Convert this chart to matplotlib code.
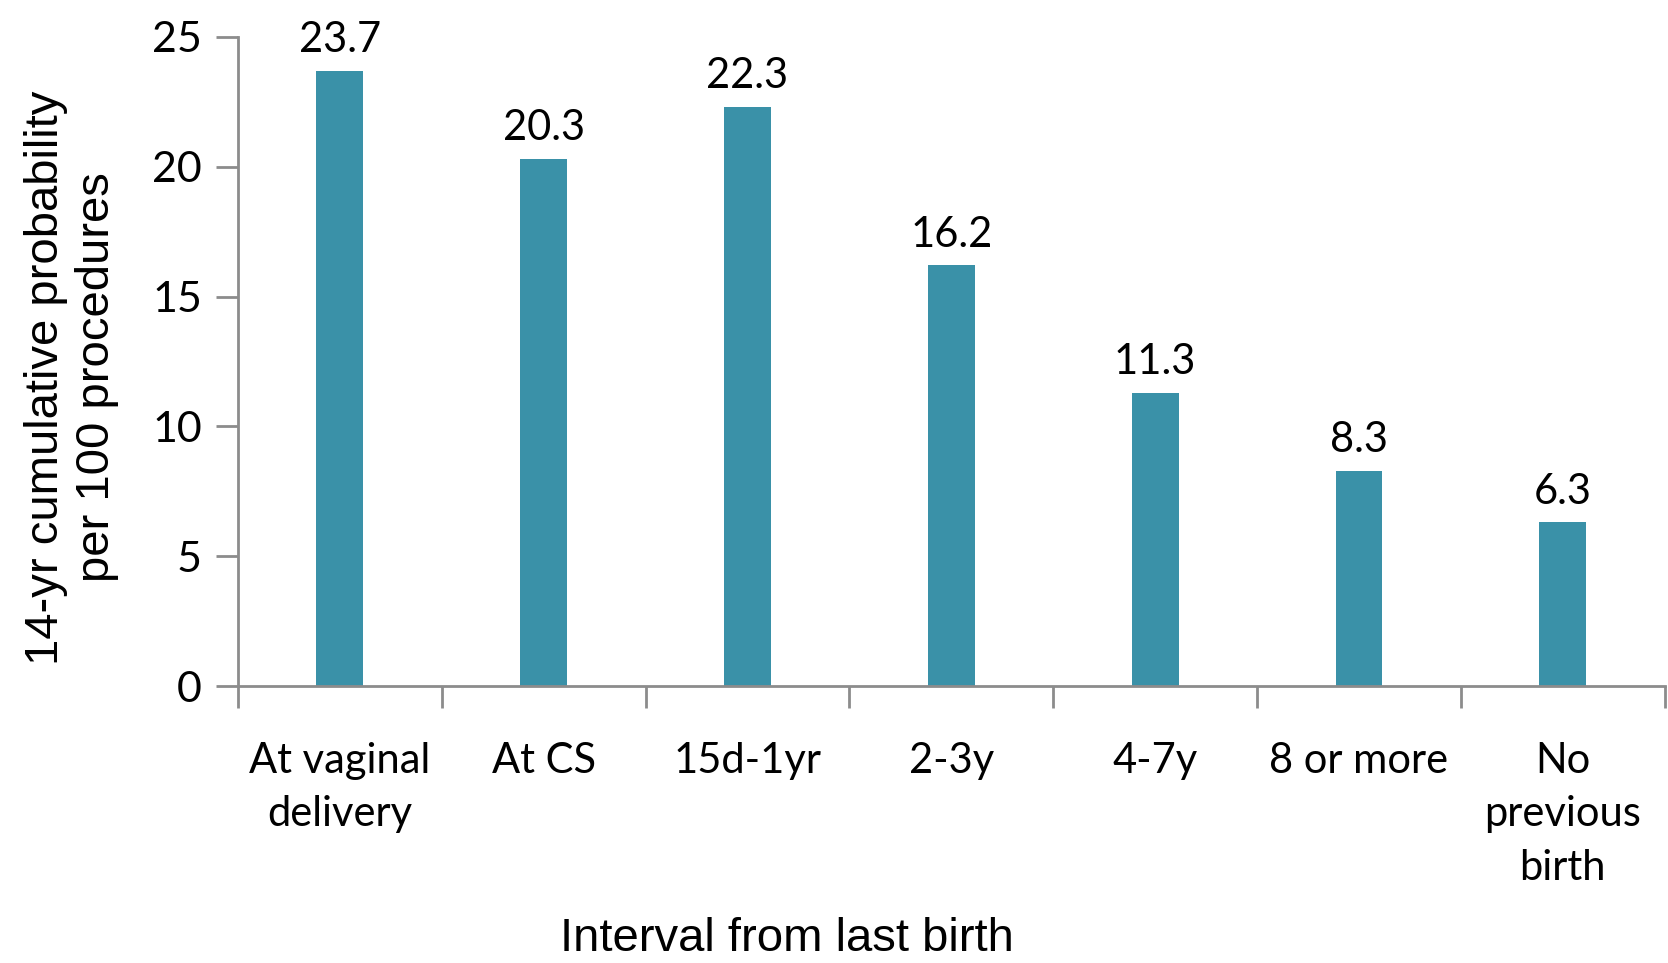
import matplotlib
matplotlib.use("Agg")
import matplotlib.pyplot as plt
import numpy as np

categories = ["At vaginal\ndelivery", "At CS", "15d-1yr", "2-3y", "4-7y",
              "8 or more", "No\nprevious\nbirth"]
values = [23.7, 20.3, 22.3, 16.2, 11.3, 8.3, 6.3]

bar_color = "#3a91a8"
axis_color = "#8c8c8c"
label_font = "Lato"

fig = plt.figure(figsize=(16.68, 9.63), dpi=100)
ax = fig.add_axes([0.1427, 0.2876, 0.8553, 0.674])

x = np.arange(len(categories))
bars = ax.bar(x, values, width=0.23, color=bar_color, zorder=2)

for xi, v in zip(x, values):
    ax.text(xi, v + 0.45, f"{v:.1f}", ha="center", va="bottom",
            fontsize=30, family=label_font, color="black")

ax.set_xlim(-0.5, len(categories) - 0.5)
ax.set_ylim(0, 25)
ax.set_yticks(np.arange(0, 26, 5))
ax.set_yticklabels([str(t) for t in range(0, 26, 5)],
                   fontsize=31, family=label_font)

# category labels sit between boundary ticks
ax.set_xticks(np.arange(-0.5, len(categories), 1.0))
ax.set_xticklabels([])
ax.set_xticks(x, minor=True)
ax.set_xticklabels(categories, minor=True, fontsize=30, family=label_font,
                   linespacing=1.5, va="top")
ax.tick_params(axis="x", which="minor", length=0, pad=40)
ax.tick_params(axis="x", which="major", length=16, width=2, color=axis_color,
               direction="out")
ax.tick_params(axis="y", length=16, width=2, color=axis_color,
               direction="out", pad=10)

for side in ["top", "right"]:
    ax.spines[side].set_visible(False)
for side in ["left", "bottom"]:
    ax.spines[side].set_color(axis_color)
    ax.spines[side].set_linewidth(2)

fig.text(0.043, 0.608, "14-yr cumulative probability\nper 100 procedures",
         rotation=90, ha="center", va="center", fontsize=34,
         family="Liberation Sans", linespacing=1.2)
fig.text(0.472, 0.025, "Interval from last birth", ha="center", va="center",
         fontsize=34, family="Liberation Sans")

fig.savefig("out.png", dpi=100)
